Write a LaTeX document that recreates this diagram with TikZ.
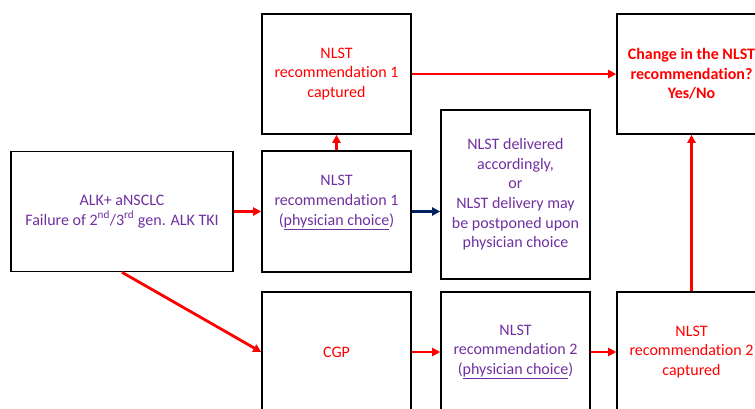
\documentclass[tikz,border=0pt]{standalone}
\usepackage{fontspec}
\setmainfont{Carlito}[Ligatures=NoCommon]
\usetikzlibrary{arrows.meta}
\definecolor{txtpurple}{RGB}{112,48,160}
\definecolor{arrnavy}{RGB}{0,32,96}
\tikzset{>={Triangle[length=8pt,width=8pt]}}
\tikzset{
  box/.style={draw=black, line width=1.6pt, minimum width=149pt, minimum height=120pt,
    align=center, inner sep=2pt, font=\fontsize{16}{19.6}\selectfont},
  purplebox/.style={box, text=txtpurple},
  redbox/.style={box, text=red},
  redarrow/.style={->, draw=red, line width=2.8pt},
  navyarrow/.style={->, draw=arrnavy, line width=2.8pt}
}

\begin{document}
\begin{tikzpicture}[x=1pt,y=-1pt]
\useasboundingbox (0,0) rectangle (755,409);

% boxes of the first row
\node[redbox] (cap1) at (336.5,74) {NLST\\recommendation 1\\captured};
\node[redbox, font=\fontsize{16}{19.6}\selectfont\bfseries] (change) at (691.5,74) {Change in the NLST\\recommendation?\\Yes/No};

% boxes of the middle row
\node[purplebox, minimum width=222pt] (alk) at (122,211.5) {ALK+ aNSCLC\\Failure of 2\textsuperscript{nd}/3\textsuperscript{rd} gen. ALK TKI};
\node[purplebox, minimum height=121pt] (rec1) at (336.5,211.5) {};
\node[text=txtpurple, align=center, font=\fontsize{16}{19.6}\selectfont] (rec1txt) at ([yshift=9pt]rec1.center)
  {NLST\\recommendation 1\\(\underline{physician choice})};
\node[purplebox, minimum height=169pt] (deliv) at (515.5,194.5)
  {NLST delivered\\accordingly,\\or\\NLST delivery may\\be postponed upon\\physician choice};

% boxes of the last row
\node[redbox] (cgp) at (336.5,352) {CGP};
\node[purplebox] (rec2) at (515.5,352) {NLST\\recommendation 2\\(\underline{physician choice})};
\node[redbox] (cap2) at (691.5,352) {NLST\\recommendation 2\\captured};

% alk to rec1
\draw[redarrow] (alk.east) -- (rec1.west);
% alk to cgp
\draw[redarrow] (alk.south) -- (cgp.west);
% rec1 to cap1
\draw[redarrow] (rec1.north) -- (cap1.south);
% rec1 to deliv
\draw[navyarrow] (rec1.east) -- (rec1.east -| deliv.west);
% cap1 to change
\draw[redarrow] (cap1.east) -- (change.west);
% cgp to rec2
\draw[redarrow] (cgp.east) -- (rec2.west);
% rec2 to cap2
\draw[redarrow] (rec2.east) -- (cap2.west);
% cap2 to change
\draw[redarrow] (cap2.north) -- (change.south);
\end{tikzpicture}
\end{document}
